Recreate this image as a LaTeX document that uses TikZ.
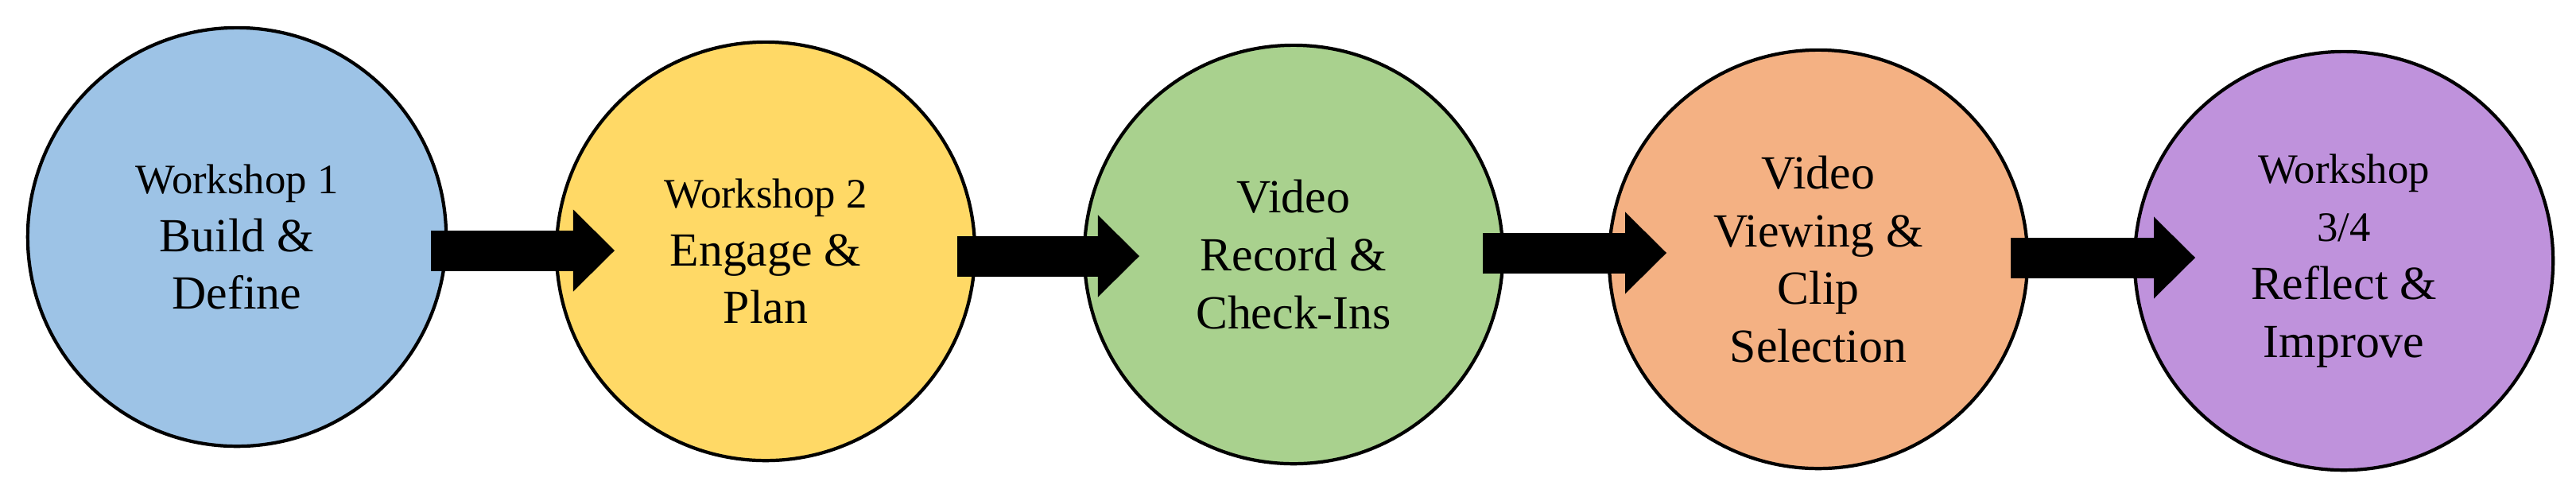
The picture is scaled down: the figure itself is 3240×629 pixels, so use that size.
\documentclass[tikz,border=0pt]{standalone}
\usepackage{fontspec}
\setmainfont{Liberation Serif}
\usetikzlibrary{arrows.meta,calc}

\definecolor{buildblue}{RGB}{157,195,230}
\definecolor{engageyellow}{RGB}{255,217,102}
\definecolor{recordgreen}{RGB}{169,209,142}
\definecolor{vieworange}{RGB}{244,177,131}
\definecolor{reflectpurple}{RGB}{191,146,220}

\begin{document}
\begin{tikzpicture}[x=0.01cm,y=-0.01cm]

    \tikzset{
      stage/.style={
        circle,
        draw,
        line width=1.2pt,
        minimum size=5.26cm,
        inner sep=0pt,
        align=center,
        font=\fontsize{17}{20.7}\selectfont,
      },
      flow/.style={
        line width=0.51cm,
        -{Triangle[length=0.52cm,width=1.03cm,line width=0pt]},
      },
    }
    \useasboundingbox (0,0) rectangle (3240,629);
	\node[stage,fill=buildblue] (build) at (298,298) {{\fontsize{15}{20.7}\selectfont Workshop 1}\\Build \&\\Define};
	\node[stage,fill=engageyellow] (engage) at (963,316) {{\fontsize{15}{20.7}\selectfont Workshop 2}\\Engage \&\\Plan};
	\node[stage,fill=recordgreen] (record) at (1627,320) {Video\\Record \&\\Check-Ins};
	\node[stage,fill=vieworange] (viewing) at (2287,326) {Video\\Viewing \&\\Clip\\Selection};
	\node[stage,fill=reflectpurple] (reflect) at (2948,328) {{\fontsize{15}{20.7}\selectfont Workshop}\\{\fontsize{15}{20.7}\selectfont 3/4}\\Reflect \&\\Improve};
	\draw[flow] ($(build.center)+(244,17)$)--($(engage.center)+(-190,-1)$);
	\draw[flow] ($(engage.center)+(241,6)$)--($(record.center)+(-194,2)$);
	\draw[flow] ($(record.center)+(238,-2)$)--($(viewing.center)+(-191,-8)$);
	\draw[flow] ($(viewing.center)+(242,-2)$)--($(reflect.center)+(-187,-4)$);

\end{tikzpicture}
\end{document}
